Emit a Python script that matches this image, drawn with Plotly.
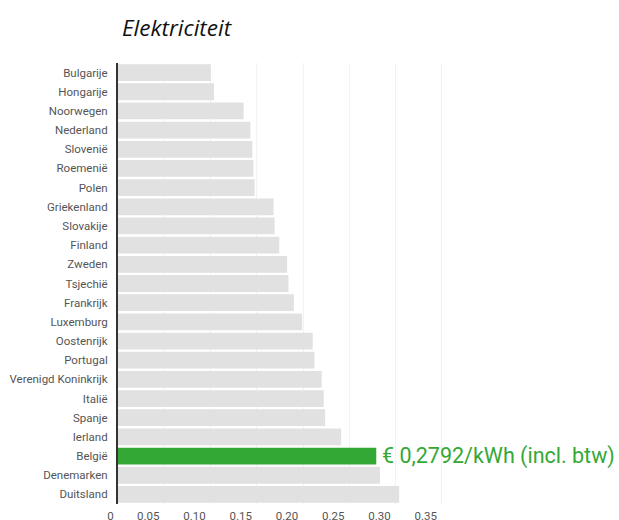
import plotly.graph_objects as go

countries = ["Bulgarije", "Hongarije", "Noorwegen", "Nederland", "Slovenië", "Roemenië",
             "Polen", "Griekenland", "Slovakije", "Finland", "Zweden", "Tsjechië",
             "Frankrijk", "Luxemburg", "Oostenrijk", "Portugal", "Verenigd Koninkrijk",
             "Italië", "Spanje", "Ierland", "België", "Denemarken", "Duitsland"]
prices = [0.1003, 0.1038, 0.1358, 0.1431, 0.1452, 0.1463,
          0.1477, 0.1682, 0.1693, 0.1743, 0.1829, 0.1843,
          0.1901, 0.1991, 0.2105, 0.2124, 0.2202,
          0.2224, 0.2239, 0.2412, 0.2792, 0.2832, 0.3040]
highlight = "België"
highlight_label = "€ 0,2792/kWh (incl. btw)"
tick_vals = [0, 0.05, 0.10, 0.15, 0.20, 0.25, 0.30, 0.35]
tick_text = ["\u00a0" * 6 + "0", "0.05", "0.10", "0.15", "0.20", "0.25", "0.30", "0.35"]

GREEN = "#34a835"
GREY = "#e1e1e1"
colors = [GREEN if c == highlight else GREY for c in countries]

fig = go.Figure(go.Bar(
    x=prices, y=countries, orientation="h",
    marker=dict(color=colors, line=dict(width=0)),
    hoverinfo="x+y",
))

hi = countries.index(highlight)
fig.add_annotation(
    x=prices[hi], y=countries[hi], xref="x", yref="y",
    text=highlight_label, showarrow=False, xanchor="left", yanchor="middle",
    xshift=4, font=dict(family="Roboto", size=21.5, color=GREEN),
)

fig.update_layout(
    template="none",
    width=619, height=520,
    margin=dict(l=118, r=168, t=63, b=16, autoexpand=False),
    paper_bgcolor="white", plot_bgcolor="white",
    bargap=0.125,
    showlegend=False,
    title=dict(text="<i>Elektriciteit</i>", x=122 / 619, xanchor="left",
               y=1 - 28 / 520, yanchor="middle", xref="container", yref="container",
               font=dict(family="Open Sans", size=22.5, color="#111111")),
    font=dict(family="Roboto", size=11.5, color="#555555"),
)
fig.update_xaxes(
    range=[0, 0.36], tickvals=tick_vals, ticktext=tick_text,
    showgrid=True, gridcolor="#f2f2f2", gridwidth=1, zeroline=False,
    showline=False, ticks="", ticklabelshift=-16, ticklabelstandoff=3,
    tickfont=dict(family="Roboto", size=11.5, color="#555555"), automargin=False,
)
fig.update_yaxes(
    autorange="reversed", showgrid=False, zeroline=False,
    showline=True, linecolor="#333333", linewidth=2, ticks="",
    ticklabelstandoff=6,
    tickfont=dict(family="Roboto", size=11.5, color="#555555"), automargin=False,
)

fig.write_html("out.html", config={"displayModeBar": False},
               post_script="document.body.style.margin='0';")
